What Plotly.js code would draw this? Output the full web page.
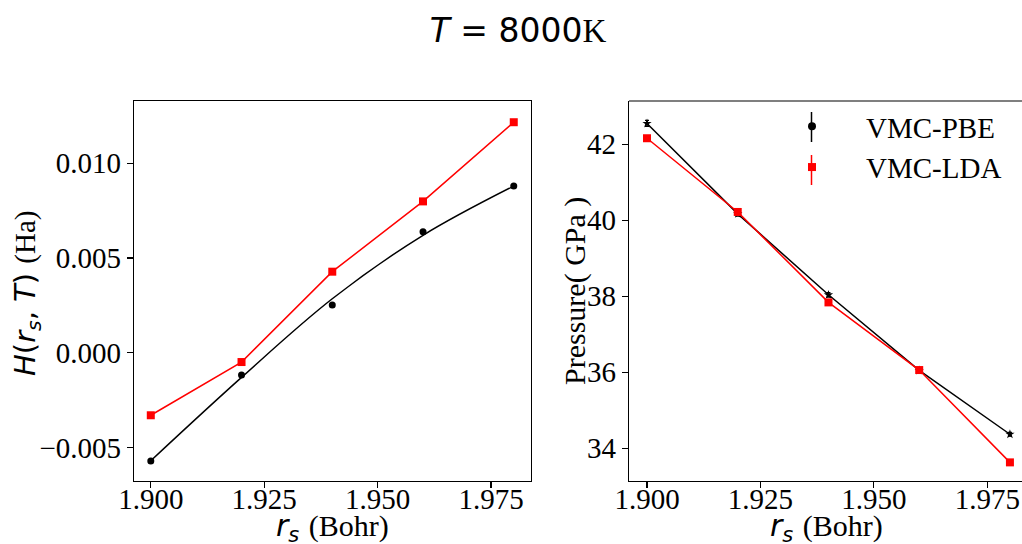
<!DOCTYPE html>
<html>
<head>
<meta charset="utf-8">
<script src="https://cdn.plot.ly/plotly-3.0.1.min.js"></script>
<style>html,body{margin:0;padding:0;background:#fff}#plot{width:1022px;height:544px}</style>
</head>
<body>
<div id="plot"></div>
<script>
// ---- data ----
var rs = [1.90, 1.92, 1.94, 1.96, 1.98];
var hPBE = [-0.00572, -0.00118, 0.00252, 0.00639, 0.00880];
var hPBEerr = [0.00010, 0.00006, 0.00006, 0.00006, 0.00006];
var hLDA = [-0.00330, -0.00049, 0.00428, 0.00799, 0.01217];
var hLDAerr = [0.00008, 0.00006, 0.00008, 0.00006, 0.00006];
var hPBEfit = [-0.00570, -0.00130, 0.00285, 0.00620, 0.00880];
var pPBE = [42.55, 40.17, 38.04, 36.05, 34.37];
var pPBEerr = [0.08, 0.06, 0.06, 0.05, 0.05];
var pLDA = [42.16, 40.22, 37.84, 36.06, 33.63];
var pLDAerr = [0.06, 0.06, 0.06, 0.05, 0.05];
var seriesNames = ['VMC-PBE', 'VMC-LDA'];
var xTicks = [1.900, 1.925, 1.950, 1.975];
var xTickText = ['1.900', '1.925', '1.950', '1.975'];
var hTicks = [-0.005, 0.000, 0.005, 0.010];
var hTickText = ['\u22120.005', '0.000', '0.005', '0.010'];
var pTicks = [34, 36, 38, 40, 42];

var SERIF = 'Liberation Serif, Times New Roman, serif';
var SANS = 'DejaVu Sans, sans-serif';
var W = 1022, H = 544;
function px(x){ return x / W; }
function py(y){ return 1 - y / H; }

var traces = [
  // left panel
  {x: rs, y: hPBEfit, xaxis: 'x', yaxis: 'y', mode: 'lines', line: {color: 'black', width: 1.5, shape: 'spline', smoothing: 1}, showlegend: false, hoverinfo: 'skip'},
  {x: rs, y: hPBE, xaxis: 'x', yaxis: 'y', mode: 'markers', marker: {color: 'black', symbol: 'circle', size: 7},
   error_y: {type: 'data', array: hPBEerr, color: 'black', thickness: 1.2, width: 0}, showlegend: false},
  {x: rs, y: hLDA, xaxis: 'x', yaxis: 'y', mode: 'lines+markers', line: {color: 'red', width: 1.5}, marker: {color: 'red', symbol: 'square', size: 8},
   error_y: {type: 'data', array: hLDAerr, color: 'red', thickness: 1.2, width: 0}, showlegend: false},
  // right panel
  {x: rs, y: pPBE, xaxis: 'x2', yaxis: 'y2', mode: 'lines+markers', line: {color: 'black', width: 1.5}, marker: {color: 'black', symbol: 'star', size: 7},
   error_y: {type: 'data', array: pPBEerr, color: 'black', thickness: 1.2, width: 2}, showlegend: false},
  {x: rs, y: pLDA, xaxis: 'x2', yaxis: 'y2', mode: 'lines+markers', line: {color: 'red', width: 1.5}, marker: {color: 'red', symbol: 'square', size: 8},
   error_y: {type: 'data', array: pLDAerr, color: 'red', thickness: 1.2, width: 0}, showlegend: false},
  // legend entries
  {x: [null], y: [null], xaxis: 'x2', yaxis: 'y2', mode: 'markers', name: seriesNames[0], marker: {color: 'black', symbol: 'circle', size: 8}},
  {x: [null], y: [null], xaxis: 'x2', yaxis: 'y2', mode: 'markers', name: seriesNames[1], marker: {color: 'red', symbol: 'square', size: 8}}
];

var axisCommon = {
  showline: true, linecolor: 'black', linewidth: 1.2,
  ticks: 'outside', ticklen: 6, tickwidth: 1.2, tickcolor: 'black',
  showgrid: false, zeroline: false,
  tickfont: {family: SERIF, size: 29, color: 'black'}
};
function ax(extra){ var o = {}; for (var k in axisCommon) o[k] = axisCommon[k]; for (var k2 in extra) o[k2] = extra[k2]; return o; }

var yTop = 101, yBot = 481;
var layout = {
  width: W, height: H,
  margin: {l: 0, r: 0, t: 0, b: 0},
  paper_bgcolor: 'white', plot_bgcolor: 'white',
  showlegend: true,
  title: {text: '<i>T</i> = 8000<span style="font-family:Liberation Serif">K</span>', font: {family: SANS, size: 33, color: 'black'},
          x: px(518), xanchor: 'center', y: py(30), yref: 'container', yanchor: 'middle'},
  xaxis: ax({domain: [px(134), px(531)], range: [1.8963, 1.9838], anchor: 'y', mirror: true, tickvals: xTicks, ticktext: xTickText, ticklabelstandoff: -14}),
  yaxis: ax({domain: [py(yBot), py(yTop)], range: [-0.00677, 0.01329], anchor: 'x', mirror: true, tickvals: hTicks, ticktext: hTickText}),
  xaxis2: ax({domain: [px(629), 1], range: [1.89603, 1.98266], anchor: 'y2', tickvals: xTicks, ticktext: xTickText, ticklabelstandoff: -14}),
  yaxis2: ax({domain: [py(yBot), py(yTop)], range: [33.14, 43.14], anchor: 'x2', tickvals: pTicks}),
  legend: {x: px(758), xanchor: 'left', y: py(101), yanchor: 'top', font: {family: SERIF, size: 29, color: 'black'},
           bgcolor: 'rgba(0,0,0,0)', itemwidth: 98, tracegroupgap: 0},
  shapes: [
    {type: 'line', xref: 'x2 domain', yref: 'y2 domain', x0: 0, x1: 1, y0: 1, y1: 1, line: {color: 'black', width: 1.2}},
    {type: 'line', xref: 'paper', yref: 'paper', x0: px(811.5), x1: px(811.5), y0: py(112), y1: py(142), line: {color: 'black', width: 1.5}},
    {type: 'line', xref: 'paper', yref: 'paper', x0: px(811.5), x1: px(811.5), y0: py(155), y1: py(185), line: {color: 'red', width: 1.5}}
  ],
  annotations: [
    {text: '<i>H</i>(<i>r</i><sub><i>s</i></sub>, <i>T</i>) <span style="font-family:Liberation Serif">(Ha)</span>', xref: 'paper', yref: 'paper',
     x: px(27), y: py(293), xanchor: 'center', yanchor: 'middle', textangle: -90, showarrow: false, font: {family: SANS, size: 29, color: 'black'}},
    {text: 'Pressure( GPa )', xref: 'paper', yref: 'paper',
     x: px(575), y: py(291), xanchor: 'center', yanchor: 'middle', textangle: -90, showarrow: false, font: {family: SERIF, size: 30, color: 'black'}},
    {text: '<i>r</i><sub><i>s</i></sub> <span style="font-family:Liberation Serif">(Bohr)</span>', xref: 'paper', yref: 'paper',
     x: px(332), y: py(527), xanchor: 'center', yanchor: 'middle', showarrow: false, font: {family: SANS, size: 30, color: 'black'}},
    {text: '<i>r</i><sub><i>s</i></sub> <span style="font-family:Liberation Serif">(Bohr)</span>', xref: 'paper', yref: 'paper',
     x: px(826), y: py(527), xanchor: 'center', yanchor: 'middle', showarrow: false, font: {family: SANS, size: 30, color: 'black'}}
  ]
};

Plotly.newPlot('plot', traces, layout, {displayModeBar: false, staticPlot: true});
</script>
</body>
</html>
